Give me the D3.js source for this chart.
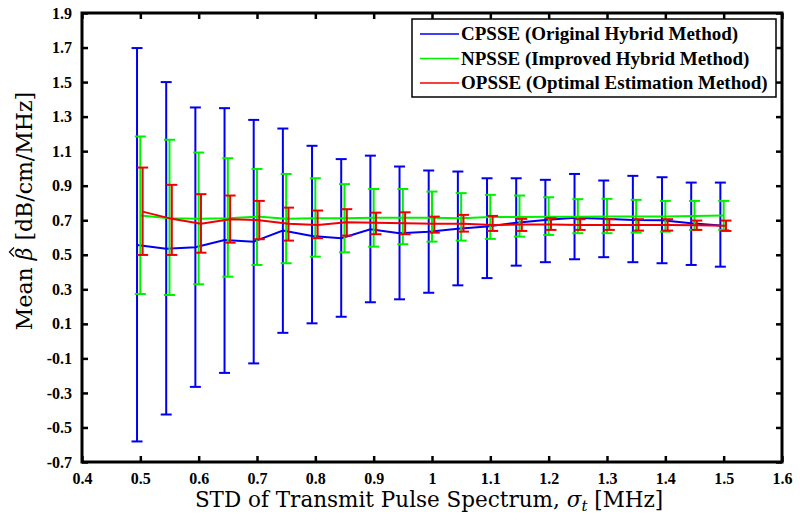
<!DOCTYPE html>
<html><head><meta charset="utf-8">
<script src="https://cdn.jsdelivr.net/npm/d3@7"></script>
<style>body{margin:0;background:#fff}svg{display:block}</style>
</head><body>
<svg id="chart" width="800" height="522"></svg>
<script>
const xs = [0.5,0.55,0.6,0.65,0.7,0.75,0.8,0.85,0.9,0.95,1.0,1.05,1.1,1.15,1.2,1.25,1.3,1.35,1.4,1.45,1.5];

const cpsseMean  = [0.557,0.535,0.543,0.586,0.576,0.640,0.609,0.596,0.648,0.625,0.634,0.650,0.663,0.686,0.702,0.715,0.708,0.702,0.700,0.683,0.670];
const cpsseUpper = [1.697,1.500,1.353,1.349,1.281,1.231,1.131,1.054,1.074,1.011,0.988,0.982,0.943,0.943,0.934,0.968,0.930,0.957,0.949,0.918,0.918];
const cpsseLower = [-0.581,-0.425,-0.265,-0.184,-0.129,0.048,0.103,0.141,0.225,0.242,0.280,0.323,0.365,0.437,0.457,0.474,0.486,0.457,0.451,0.441,0.431];

const npsseMean  = [0.727,0.712,0.708,0.712,0.721,0.708,0.712,0.712,0.715,0.715,0.715,0.712,0.718,0.718,0.720,0.720,0.722,0.721,0.722,0.725,0.727];
const npsseUpper = [1.185,1.166,1.092,1.059,0.997,0.968,0.943,0.909,0.881,0.881,0.866,0.857,0.847,0.843,0.833,0.822,0.824,0.818,0.812,0.812,0.812];
const npsseLower = [0.273,0.267,0.329,0.373,0.441,0.451,0.489,0.514,0.547,0.561,0.576,0.582,0.592,0.605,0.615,0.625,0.625,0.628,0.634,0.644,0.644];

const opsseMean  = [0.750,0.708,0.679,0.706,0.700,0.679,0.673,0.688,0.686,0.683,0.679,0.679,0.673,0.675,0.675,0.673,0.673,0.673,0.673,0.671,0.668];
const opsseUpper = [1.005,0.905,0.851,0.843,0.812,0.773,0.756,0.764,0.744,0.746,0.721,0.731,0.725,0.708,0.712,0.706,0.706,0.706,0.706,0.698,0.698];
const opsseLower = [0.499,0.499,0.512,0.570,0.590,0.582,0.596,0.611,0.619,0.619,0.628,0.634,0.638,0.638,0.644,0.644,0.644,0.640,0.640,0.644,0.638];

const seriesNames = ["CPSSE (Original Hybrid Method)","NPSSE (Improved Hybrid Method)","OPSSE (Optimal Estimation Method)"];

const xTickValues = [0.4,0.5,0.6,0.7,0.8,0.9,1.0,1.1,1.2,1.3,1.4,1.5,1.6];
const xTickLabels = ["0.4","0.5","0.6","0.7","0.8","0.9","1","1.1","1.2","1.3","1.4","1.5","1.6"];
const yTickValues = [-0.7,-0.5,-0.3,-0.1,0.1,0.3,0.5,0.7,0.9,1.1,1.3,1.5,1.7,1.9];
const yTickLabels = ["-0.7","-0.5","-0.3","-0.1","0.1","0.3","0.5","0.7","0.9","1.1","1.3","1.5","1.7","1.9"];

const svg = d3.select("#chart");
const L = 82, R = 782, T = 13, B = 462;
const x = d3.scaleLinear().domain([0.4,1.6]).range([L,R]);
const y = d3.scaleLinear().domain([-0.7,1.9]).range([B,T]);

const series = [
  {name: seriesNames[0], mean: cpsseMean, up: cpsseUpper, lo: cpsseLower, color: "#0000f0", dx: -3.3},
  {name: seriesNames[1], mean: npsseMean, up: npsseUpper, lo: npsseLower, color: "#00f000", dx: 0},
  {name: seriesNames[2], mean: opsseMean, up: opsseUpper, lo: opsseLower, color: "#f00000", dx: 2.3}
];

const plot = svg.append("g");
const cap = 5.5;
series.forEach(s => {
  const g = plot.append("g");
  const line = d3.line().x((d,i) => x(xs[i]) + s.dx).y(d => y(d));
  g.append("path").attr("d", line(s.mean)).attr("fill","none").attr("stroke", s.color).attr("stroke-width", 2);
  xs.forEach((xv,i) => {
    const px = x(xv) + s.dx;
    g.append("line").attr("x1",px).attr("x2",px).attr("y1",y(s.up[i])).attr("y2",y(s.lo[i]))
      .attr("stroke",s.color).attr("stroke-width",2);
    [s.up[i], s.lo[i]].forEach(v => {
      g.append("line").attr("x1",px-cap).attr("x2",px+cap).attr("y1",y(v)).attr("y2",y(v))
        .attr("stroke",s.color).attr("stroke-width",2);
    });
  });
});

// axes
const tickFont = "'Liberation Serif','Times New Roman',serif";
const xAxisB = d3.axisBottom(x).tickValues(xTickValues).tickFormat((d,i)=>xTickLabels[i]).tickSize(-6).tickPadding(11);
const xAxisT = d3.axisTop(x).tickValues(xTickValues).tickFormat("").tickSize(-6);
const yAxisL = d3.axisLeft(y).tickValues(yTickValues).tickFormat((d,i)=>yTickLabels[i]).tickSize(-6).tickPadding(10);
const yAxisR = d3.axisRight(y).tickValues(yTickValues).tickFormat("").tickSize(-6);

function styleAxis(g){
  g.select(".domain").remove();
  g.selectAll(".tick line").attr("stroke","#000").attr("stroke-width",2.5);
  g.selectAll(".tick text").attr("fill","#000").style("font-family",tickFont).style("font-weight","bold").style("font-size","16px");
}
svg.append("g").attr("transform",`translate(0,${B})`).call(xAxisB).call(styleAxis);
svg.append("g").attr("transform",`translate(0,${T})`).call(xAxisT).call(styleAxis);
svg.append("g").attr("transform",`translate(${L},0)`).call(yAxisL).call(styleAxis);
svg.append("g").attr("transform",`translate(${R},0)`).call(yAxisR).call(styleAxis);

svg.append("rect").attr("x",L).attr("y",T).attr("width",R-L).attr("height",B-T)
  .attr("fill","none").attr("stroke","#000").attr("stroke-width",3);

// axis labels
const labFont = "'DejaVu Serif',serif";
const xl = svg.append("text").attr("x",429).attr("y",507).attr("text-anchor","middle")
  .style("font-family",labFont).style("font-size","21.5px").attr("fill","#000");
xl.append("tspan").text("STD of Transmit Pulse Spectrum, ");
xl.append("tspan").style("font-style","italic").text("σ");
xl.append("tspan").style("font-style","italic").style("font-size","15px").attr("dy",4).text("t");
xl.append("tspan").attr("dy",-4).text(" [MHz]");

const ylg = svg.append("g").attr("transform",`translate(32,211) rotate(-90)`);
const yl = ylg.append("text").attr("x",0).attr("y",0).attr("text-anchor","middle")
  .style("font-family",labFont).style("font-size","22px").attr("fill","#000");
yl.append("tspan").text("Mean ");
yl.append("tspan").style("font-style","italic").text("β");
yl.append("tspan").text(" [dB/cm/MHz]");
// hat over beta
const tn = yl.node();
const p0 = tn.getStartPositionOfChar(5), p1 = tn.getEndPositionOfChar(5);
const mid = (p0.x + p1.x) / 2 + 2;
ylg.append("path").attr("d", `M${mid-4.5},-18 L${mid},-22.5 L${mid+4.5},-18`)
  .attr("fill","none").attr("stroke","#000").attr("stroke-width",1.3);

// legend
const lg = svg.append("g");
lg.append("rect").attr("x",412).attr("y",19).attr("width",364).attr("height",78)
  .attr("fill","#fff").attr("stroke","#000").attr("stroke-width",1.5);
series.forEach((s,i) => {
  const cy = 34 + i*24.5;
  lg.append("line").attr("x1",420).attr("x2",459).attr("y1",cy).attr("y2",cy).attr("stroke",s.color).attr("stroke-width",1.5);
  lg.append("text").attr("x",461).attr("y",cy+6).text(s.name)
    .style("font-family",tickFont).style("font-weight","bold").style("font-size","19px").attr("fill","#000");
});
</script>
</body></html>
